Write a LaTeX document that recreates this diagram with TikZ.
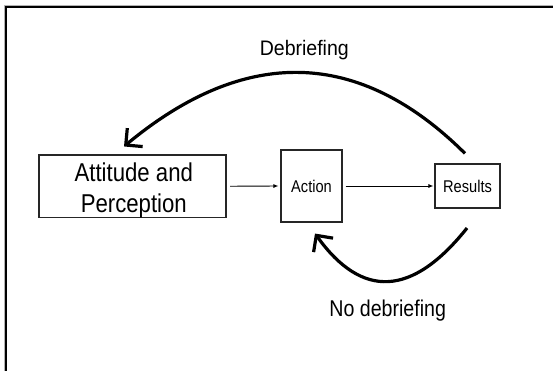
\documentclass[tikz,border=0pt]{standalone}
\usepackage{fontspec}
\setmainfont[FakeStretch=0.86]{Liberation Sans}
\newfontfamily\widerfont[FakeStretch=0.93]{Liberation Sans}
\usetikzlibrary{arrows.meta,calc}
\begin{document}
\begin{tikzpicture}[x=1pt,y=1pt,
  box/.style={draw=black!85, line width=1.1pt, inner sep=0pt},
  thinarrow/.style={line width=0.9pt, -{Latex[length=5pt,width=4pt]}},
  looparrow/.style={line width=3.2pt, -{Straight Barb[length=12pt,width=24pt]}},
  lbl/.style={inner sep=0pt, anchor=base}]
\useasboundingbox (0,0) rectangle (553,-371);
% frame
\draw[black!30, line width=1pt] (4.5,-371) -- (4.5,-5.5) -- (553,-5.5);
\draw[black, line width=2pt] (6,-371) -- (6,-7) -- (553,-7);
% boxes
\node[box, minimum width=187pt, minimum height=62.5pt] (att) at (132.5,-186.25) {};
\node[lbl, align=center, font=\fontsize{25.8}{31}\selectfont] (atttext) at (133.8,-212.7) {Attitude and\\Perception};
\node[box, minimum width=61pt, minimum height=72pt, font=\fontsize{17}{20}\selectfont] (act) at (311.5,-186) {Action};
\node[box, minimum width=65pt, minimum height=44pt, font=\fontsize{17}{20}\selectfont] (res) at (467.5,-186) {Results};
% thin connectors
\draw[thinarrow, shorten <=3.5pt, shorten >=2pt] (att.east) -- (act.west);
\draw[thinarrow, shorten <=3pt, shorten >=1pt] (act.east) -- (res.west);
% loops
\draw[looparrow] ($(res.north)+(-2.5,10)$) .. controls (359,-48) and (245,-46) .. ($(att.north)+(-8.5,8)$);
\draw[looparrow] ($(res.south)+(-0.5,-19.5)$) .. controls (412,-297) and (362,-299) .. ($(act.south)+(3.5,-11)$);
% labels
\node[lbl, font=\widerfont\fontsize{21}{24}\selectfont] (deb) at (304.3,-55.7) {Debriefing};
\node[lbl, font=\fontsize{22.8}{26}\selectfont] (nodeb) at (387.7,-316.7) {No debriefing};
\end{tikzpicture}
\end{document}
